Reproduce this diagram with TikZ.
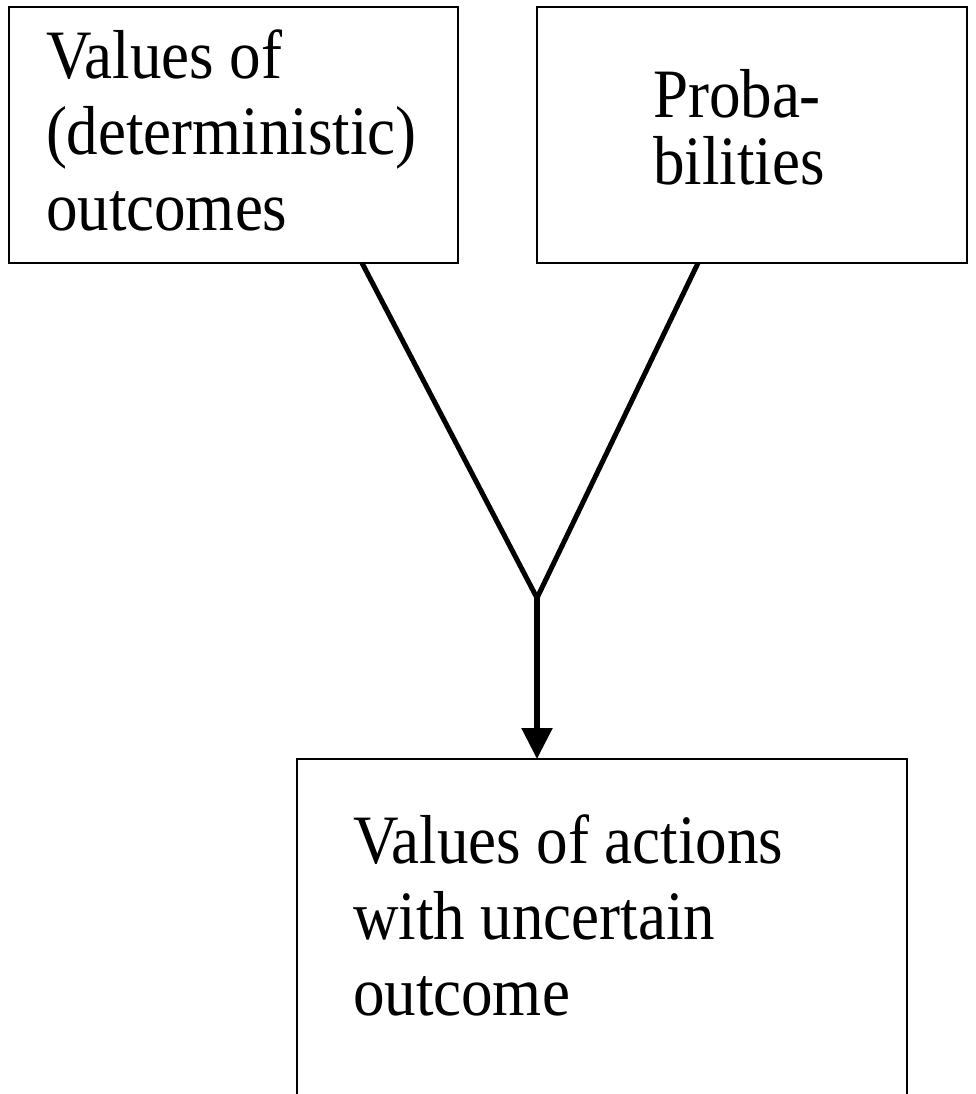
\documentclass[tikz,border=0pt]{standalone}
\usepackage{fontspec}
\setmainfont{Liberation Serif}
\usetikzlibrary{arrows.meta}
\begin{document}
\begin{tikzpicture}[x=1pt,y=-1pt,
  box/.style={draw=black, line width=1.8pt, rectangle, inner sep=0pt, outer sep=0pt, anchor=north west},
  lbl/.style={anchor=base west, inner sep=0pt, outer sep=0pt, align=left, yscale=1.1, transform shape, font=\fontsize{63}{69}\selectfont},
  lblb/.style={anchor=base west, inner sep=0pt, outer sep=0pt, align=left, yscale=1.1, transform shape, font=\fontsize{63}{61}\selectfont},
  conn/.style={line width=5pt, line join=miter},
  arr/.style={line width=5.4pt, -{Triangle[width=30pt,length=31pt]}}]
\useasboundingbox (0,0) rectangle (976,1094);
\clip (0,0) rectangle (976,1094);
\node[box, minimum width=449pt, minimum height=256pt] (b1) at (9,7) {};
\node[box, minimum width=430pt, minimum height=256pt] (b2) at (537,7) {};
\node[box, minimum width=610pt, minimum height=360pt] (b3) at (297,759) {};
\node[lbl] (t1) at (46,230) {Values of\\(deterministic)\\outcomes};
\node[lblb] (t2) at (653,185) {Proba-\\bilities};
\node[lbl] (t3) at (353,1015) {Values of actions\\with uncertain\\outcome};
\coordinate (s1) at (362,263);
\coordinate (s2) at (698,263);
\coordinate (j) at (537,598);
\draw[conn] (s1) -- (j) -- (s2);
\draw[arr] (j) -- (b3.north -| j);
\end{tikzpicture}
\end{document}
